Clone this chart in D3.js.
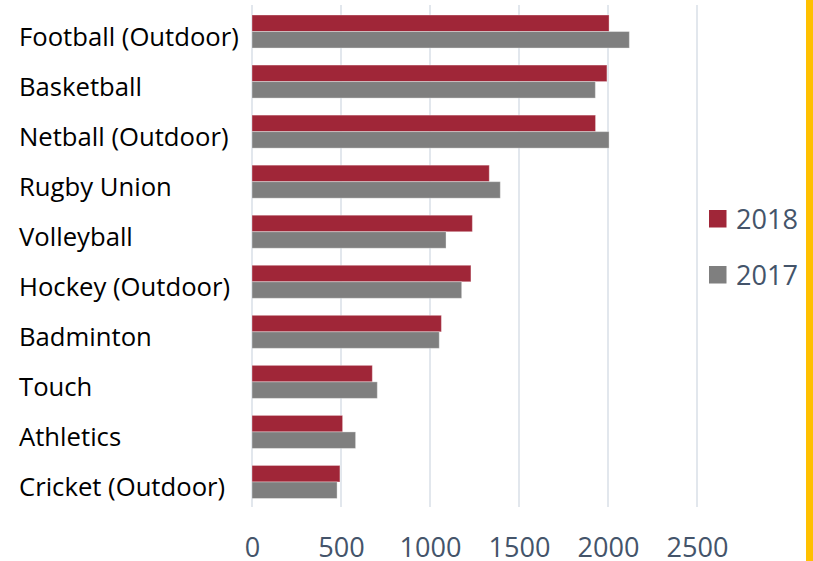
<!DOCTYPE html>
<html>
<head>
<meta charset="utf-8">
<script src="https://cdn.jsdelivr.net/npm/d3@7"></script>
<style>
  html, body { margin: 0; padding: 0; background: #fff; }
  svg { display: block; }
</style>
</head>
<body>
<svg id="chart" width="813" height="561"></svg>
<script>
const categories = ["Football (Outdoor)", "Basketball", "Netball (Outdoor)", "Rugby Union", "Volleyball",
  "Hockey (Outdoor)", "Badminton", "Touch", "Athletics", "Cricket (Outdoor)"];
const seriesNames = ["2018", "2017"];
const values2018 = [2006, 1994, 1930, 1333, 1238, 1230, 1064, 676, 509, 494];
const values2017 = [2120, 1929, 2006, 1395, 1090, 1178, 1052, 704, 582, 478];
const tickValues = [0, 500, 1000, 1500, 2000, 2500];
const colors = ["#a02638", "#7f7f7f"];

const FONT = "'Open Sans', 'Noto Sans', sans-serif";
const svg = d3.select("#chart");
const W = 813, H = 561;

const x = d3.scaleLinear().domain([0, 2500]).range([252, 697]);
const y = d3.scaleBand().domain(categories).range([6.5, 507]).paddingInner(0.34).paddingOuter(0.17);
const ySub = d3.scaleBand().domain(seriesNames).range([0, y.bandwidth()]);
const color = d3.scaleOrdinal().domain(seriesNames).range(colors);

const data = categories.map((c, i) => ({ cat: c, vals: [
  { s: "2018", v: values2018[i] }, { s: "2017", v: values2017[i] } ] }));

// fit font size so a sample text reaches a target width
function fitSize(sample, target, base) {
  const t = svg.append("text").attr("font-family", FONT).attr("font-size", base).text(sample);
  const w = t.node().getComputedTextLength();
  t.remove();
  return base * target / w;
}
const catSize = fitSize("Football (Outdoor)", 220, 24);
const tickSize = fitSize("1000", 62, 27);

// gridlines
svg.append("g").selectAll("line").data(tickValues).join("line")
  .attr("x1", d => x(d)).attr("x2", d => x(d))
  .attr("y1", 5).attr("y2", 507)
  .attr("stroke", "#d9dfe7").attr("stroke-width", 1.5);

// bars
const groups = svg.append("g").selectAll("g").data(data).join("g")
  .attr("transform", d => `translate(0,${y(d.cat)})`);
groups.selectAll("rect").data(d => d.vals).join("rect")
  .attr("x", x(0))
  .attr("y", d => ySub(d.s))
  .attr("width", d => x(d.v) - x(0))
  .attr("height", ySub.bandwidth())
  .attr("fill", d => color(d.s))
  .attr("stroke", "rgba(255,255,255,0.35)")
  .attr("stroke-width", 1);

// category labels
svg.append("g").selectAll("text").data(categories).join("text")
  .attr("x", 19)
  .attr("y", d => y(d) + y.bandwidth() / 2 + 14.5)
  .attr("font-family", FONT)
  .attr("font-size", catSize)
  .attr("fill", "#000")
  .text(d => d);

// x axis tick labels
const xAxis = d3.axisBottom(x).tickValues(tickValues).tickSize(0).tickFormat(d3.format("d"));
const ax = svg.append("g").attr("transform", "translate(0,536)").call(xAxis);
ax.select(".domain").remove();
ax.selectAll("text")
  .attr("font-family", FONT)
  .attr("font-size", tickSize)
  .attr("fill", "#44546a")
  .attr("dy", 0).attr("y", 20.5);

// legend
const leg = svg.append("g").selectAll("g").data(seriesNames).join("g")
  .attr("transform", (d, i) => `translate(709,${210 + i * 56})`);
leg.append("rect").attr("width", 17.5).attr("height", 17.5).attr("fill", d => color(d));
leg.append("text").attr("x", 27).attr("y", 18.5)
  .attr("font-family", FONT)
  .attr("font-size", tickSize)
  .attr("fill", "#44546a")
  .text(d => d);

// right accent line
svg.append("rect").attr("x", 806).attr("y", 0).attr("width", 7).attr("height", H).attr("fill", "#ffc000");
</script>
</body>
</html>
